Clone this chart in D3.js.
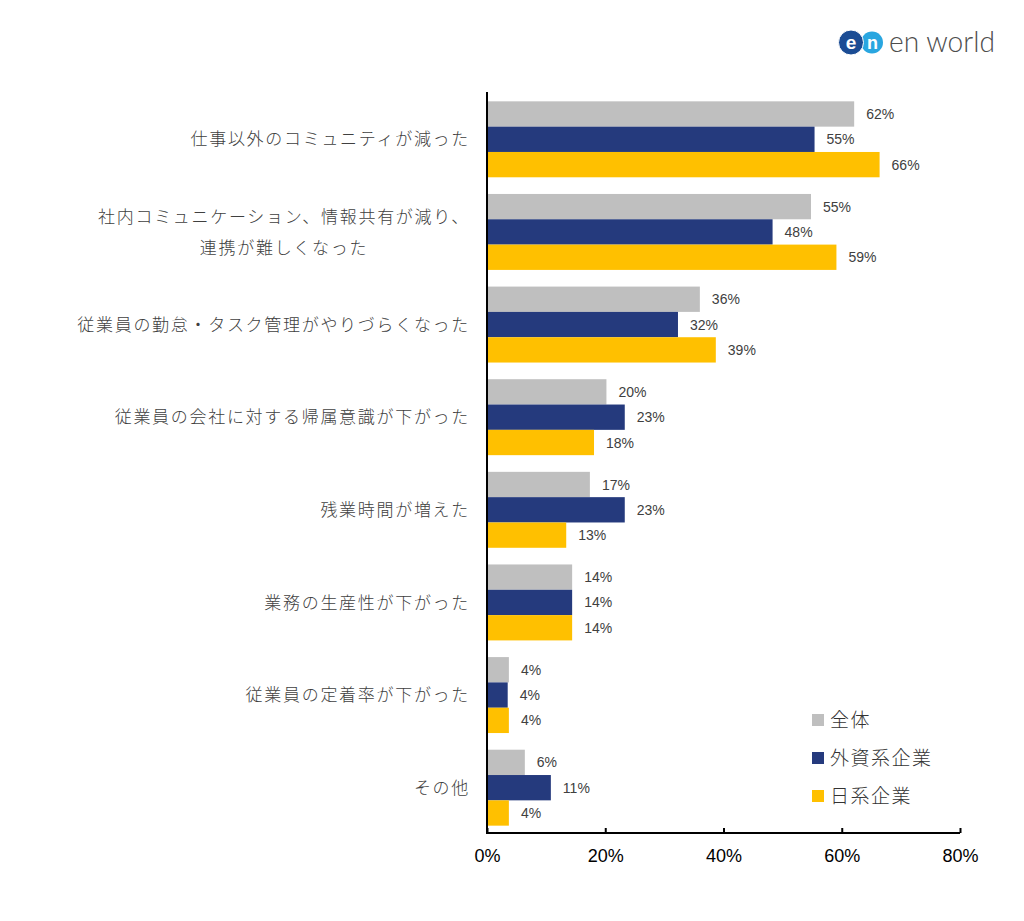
<!DOCTYPE html>
<html><head><meta charset="utf-8">
<script src="https://cdn.jsdelivr.net/npm/d3@7"></script>
<style>body{margin:0;background:#fff}svg{display:block}</style>
</head><body>
<svg id="c" width="1024" height="921"></svg>
<script>
const categories = [
  ["仕事以外のコミュニティが減った"],
  ["社内コミュニケーション、情報共有が減り、","連携が難しくなった"],
  ["従業員の勤怠・タスク管理がやりづらくなった"],
  ["従業員の会社に対する帰属意識が下がった"],
  ["残業時間が増えた"],
  ["業務の生産性が下がった"],
  ["従業員の定着率が下がった"],
  ["その他"]
];
const seriesNames = ["全体","外資系企業","日系企業"];
const seriesColors = ["#BFBFBF","#253A7D","#FFC000"];
const zentai  = [62.1, 54.8, 36.0, 20.2, 17.4, 14.4, 3.7, 6.4];
const gaishi  = [55.4, 48.3, 32.3, 23.3, 23.3, 14.4, 3.5, 10.8];
const nikkei  = [66.4, 59.1, 38.7, 18.1, 13.4, 14.4, 3.7, 3.7];
const xTicks = [0, 20, 40, 60, 80];

const series = [zentai, gaishi, nikkei];
const svg = d3.select("#c");
const x = d3.scaleLinear().domain([0, 80]).range([487, 960]);
const y = d3.scaleBand().domain(d3.range(categories.length)).range([93, 834]).paddingInner(0.18).paddingOuter(0.09);
const ys = d3.scaleBand().domain(d3.range(series.length)).range([0, y.bandwidth()]);

// bars
series.forEach((vals, si) => {
  svg.append("g").selectAll("rect").data(vals).join("rect")
    .attr("x", x(0))
    .attr("y", (d, i) => y(i) + ys(si))
    .attr("width", d => x(d) - x(0))
    .attr("height", ys.bandwidth())
    .attr("fill", seriesColors[si]);
  svg.append("g").selectAll("text").data(vals).join("text")
    .attr("x", d => x(d) + 12)
    .attr("y", (d, i) => y(i) + ys(si) + ys.bandwidth() / 2)
    .attr("dy", "0.36em")
    .attr("font-family", "Liberation Sans, Arial, sans-serif")
    .attr("font-size", 14)
    .attr("fill", "#404040")
    .text(d => Math.round(d) + "%");
});

// category labels
const catG = svg.append("g").attr("font-family", "Noto Sans CJK JP, sans-serif")
  .attr("font-size", 17).attr("font-weight", 300).attr("fill", "#404040").style("letter-spacing", "1.7px");
categories.forEach((lines, i) => {
  const cy = y(i) + y.bandwidth() / 2;
  if (lines.length === 1) {
    catG.append("text").attr("x", 470).attr("y", cy).attr("dy", "0.36em")
      .attr("text-anchor", "end").text(lines[0]);
  } else {
    const t1 = catG.append("text").attr("x", 470).attr("y", cy - 15.5).attr("dy", "0.36em")
      .attr("text-anchor", "end").text(lines[0]);
    const w = t1.node().getComputedTextLength();
    lines.slice(1).forEach((ln, k) => {
      catG.append("text").attr("x", 470 - w / 2).attr("y", cy + 15.5 + 31 * k).attr("dy", "0.36em")
        .attr("text-anchor", "middle").text(ln);
    });
  }
});

// axes
const xAxis = d3.axisBottom(x).tickValues(xTicks).tickFormat(d => d + "%").tickSize(-5).tickPadding(16);
const gx = svg.append("g").attr("transform", "translate(0,833)").call(xAxis);
gx.select(".domain").attr("stroke", "#000").attr("stroke-width", 2).attr("d", "M487,0H960");
gx.selectAll(".tick line").attr("stroke", "#000").attr("stroke-width", 2).attr("y2", -5);
gx.selectAll(".tick text").attr("font-family", "Liberation Sans, Arial, sans-serif").attr("font-size", 18).attr("fill", "#000");

const yAxis = d3.axisLeft(y).tickValues([]).tickSize(0);
const gy = svg.append("g").attr("transform", "translate(487,0)").call(yAxis);
gy.select(".domain").attr("stroke", "#000").attr("stroke-width", 2).attr("d", "M0,92V834");

// legend
const lg = svg.append("g");
const legendY = [720, 758, 796];
seriesNames.forEach((n, i) => {
  lg.append("rect").attr("x", 812).attr("y", legendY[i] - 6).attr("width", 12).attr("height", 12).attr("fill", seriesColors[i]);
  lg.append("text").attr("x", 830).attr("y", legendY[i]).attr("dy", "0.36em")
    .attr("font-family", "Noto Sans CJK JP, sans-serif").attr("font-size", 19).attr("font-weight", 300)
    .style("letter-spacing", "1.5px").attr("fill", "#333").text(n);
});

// logo
const logo = svg.append("g");
logo.append("circle").attr("cx", 872).attr("cy", 42.5).attr("r", 11).attr("fill", "#29A6E0");
logo.append("circle").attr("cx", 851).attr("cy", 42.5).attr("r", 12.5).attr("fill", "#1B4C94").attr("stroke", "#fff").attr("stroke-width", 1);
logo.append("text").attr("x", 851).attr("y", 42.5).attr("dy", "0.35em").attr("text-anchor", "middle")
  .attr("font-family", "Liberation Sans, Arial, sans-serif").attr("font-weight", "bold").attr("font-size", 19).attr("fill", "#fff").text("e");
logo.append("text").attr("x", 872.5).attr("y", 42.5).attr("dy", "0.35em").attr("text-anchor", "middle")
  .attr("font-family", "Liberation Sans, Arial, sans-serif").attr("font-weight", "bold").attr("font-size", 18).attr("fill", "#fff").text("n");
logo.append("text").attr("x", 889).attr("y", 52).attr("font-family", "Lato, sans-serif").attr("font-weight", 300)
  .attr("font-size", 29).attr("fill", "#4d4d4d").attr("textLength", 106).attr("lengthAdjust", "spacingAndGlyphs").text("en world");
</script>
</body></html>
